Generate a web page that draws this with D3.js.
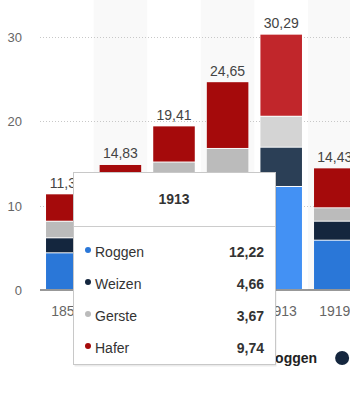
<!DOCTYPE html>
<html><head><meta charset="utf-8">
<script src="https://cdnjs.cloudflare.com/ajax/libs/d3/7.8.5/d3.min.js"></script>
<style>
html,body{margin:0;padding:0;background:#fff;overflow:hidden}
svg{display:block;font-family:"Liberation Sans",Arial,sans-serif}
</style></head><body>
<svg id="c" width="350" height="414"></svg>
<script>
const categories = ["1850","1870","1890","1900","1913","1919"];
const seriesNames = ["Roggen","Weizen","Gerste","Hafer"];
const roggen = [4.35, 5.9, 8.0, 9.8, 12.22, 5.85];
const weizen = [1.78, 2.3, 3.6, 3.7, 4.66, 2.25];
const gerste = [1.97, 2.4, 3.52, 3.23, 3.67, 1.59];
const hafer  = [3.25, 4.23, 4.29, 7.92, 9.74, 4.74];
const yTicks = [0, 10, 20, 30];
const hoveredCategory = "1913";

const colors = ["#2a77d8", "#14263e", "#bbbbbb", "#a50a0b"];
const hiColors = ["#4391f4", "#2b3f56", "#d4d4d4", "#c1262b"];
const fmt = v => d3.format(".2f")(v).replace(".", ",");

const rows = categories.map((c, i) => ({cat: c, Roggen: roggen[i], Weizen: weizen[i], Gerste: gerste[i], Hafer: hafer[i]}));
const stack = d3.stack().keys(seriesNames)(rows);

const svg = d3.select("#c");
const step = 53.6;
const x = d3.scaleBand().domain(categories).range([40, 40 + step * categories.length]).paddingInner(0.225).paddingOuter(0.1125);
const y = d3.scaleLinear().domain([0, 30]).range([290, 37.1]);

// alternating band shading
svg.append("g").selectAll("rect").data(categories.filter((c, i) => i % 2 === 1)).join("rect")
  .attr("x", d => x(d) - x.step() * x.paddingInner() / 2)
  .attr("width", x.step()).attr("y", 0).attr("height", y(0))
  .attr("fill", "#f9f9f9");

// grid
const yAxis = d3.axisLeft(y).tickValues(yTicks).tickSize(0).tickPadding(0).tickFormat(d3.format("d"));
const gy = svg.append("g").attr("transform", "translate(22,0)").call(yAxis);
gy.select(".domain").remove();
gy.selectAll("text").attr("fill", "#666").attr("font-size", 13).attr("dy", "0.35em");
svg.append("g").selectAll("line").data(yTicks.filter(t => t > 0)).join("line")
  .attr("x1", 40).attr("x2", 350).attr("y1", d => Math.round(y(d)) + 0.5).attr("y2", d => Math.round(y(d)) + 0.5)
  .attr("stroke", "#c8c8c8").attr("stroke-dasharray", "1,2");

// bars
stack.forEach((layer, si) => {
  svg.append("g").selectAll("rect").data(layer).join("rect")
    .attr("x", d => x(d.data.cat)).attr("width", x.bandwidth())
    .attr("y", d => y(d[1]))
    .attr("height", d => Math.max(0, y(d[0]) - y(d[1]) - 1))
    .attr("fill", d => d.data.cat === hoveredCategory ? hiColors[si] : colors[si]);
});

// totals
svg.append("g").selectAll("text").data(rows).join("text")
  .attr("x", d => x(d.cat) + x.bandwidth() / 2)
  .attr("y", d => y(d.Roggen + d.Weizen + d.Gerste + d.Hafer) - 6.5)
  .attr("text-anchor", "middle").attr("font-size", 14).attr("fill", "#444")
  .text(d => fmt(d.Roggen + d.Weizen + d.Gerste + d.Hafer));

// x axis
svg.append("line").attr("x1", 40).attr("x2", 350).attr("y1", 290).attr("y2", 290).attr("stroke", "#333").attr("stroke-width", 1.2);
const xAxis = d3.axisBottom(x).tickSize(0).tickPadding(0);
const gx = svg.append("g").attr("transform", "translate(0,290)").call(xAxis);
gx.select(".domain").remove();
gx.selectAll("text").attr("fill", "#666").attr("font-size", 14).attr("dy", null).attr("y", 26);

// legend
const lg = svg.append("g").attr("transform", "translate(243,358)");
let lx = 0;
seriesNames.forEach((n, i) => {
  lg.append("circle").attr("cx", lx + 7).attr("cy", 0).attr("r", 7).attr("fill", colors[i]);
  const t = lg.append("text").attr("x", lx + 22).attr("y", 5).attr("font-size", 14).attr("font-weight", "bold").attr("fill", "#222").text(n);
  lx += 22 + t.node().getComputedTextLength() + 18;
});

// tooltip
const hi = categories.indexOf(hoveredCategory);
const tip = svg.append("g").attr("transform", "translate(73,172)");
tip.append("rect").attr("x", 1.5).attr("y", 1.5).attr("width", 202).attr("height", 193).attr("fill", "rgba(0,0,0,0.08)");
tip.append("rect").attr("x", 0.5).attr("y", 0.5).attr("width", 202).attr("height", 192).attr("fill", "#fff").attr("stroke", "#c8c8c8");
tip.append("text").attr("x", 101).attr("y", 32).attr("text-anchor", "middle").attr("font-size", 14).attr("font-weight", "bold").attr("fill", "#333").text(hoveredCategory);
tip.append("line").attr("x1", 1).attr("x2", 202).attr("y1", 54.5).attr("y2", 54.5).attr("stroke", "#ccc");
const vals = [roggen[hi], weizen[hi], gerste[hi], hafer[hi]];
seriesNames.forEach((n, i) => {
  const yy = 85 + i * 32;
  tip.append("circle").attr("cx", 15).attr("cy", yy - 7).attr("r", 3).attr("fill", colors[i]);
  tip.append("text").attr("x", 22).attr("y", yy).attr("font-size", 14).attr("fill", "#333").text(n);
  tip.append("text").attr("x", 191).attr("y", yy).attr("text-anchor", "end").attr("font-size", 14).attr("font-weight", "bold").attr("fill", "#333").text(fmt(vals[i]));
});
</script>
</body></html>
